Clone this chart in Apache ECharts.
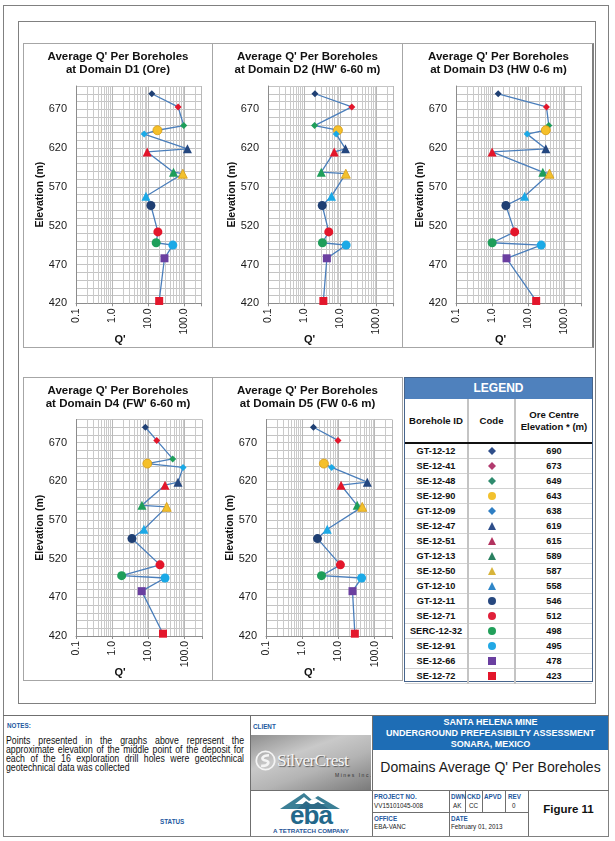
<!DOCTYPE html>
<html><head><meta charset="utf-8">
<script src="https://cdn.jsdelivr.net/npm/echarts@6/dist/echarts.min.js"></script>
<style>
body{margin:0;width:615px;height:841px;position:relative;background:#fff;font-family:"Liberation Sans",Arial,sans-serif;overflow:hidden}
.abs{position:absolute;box-sizing:border-box}
.box{border:1px solid #A6A6A6}
.hl{position:absolute;height:1px;background:#6f6f6f}
.vl{position:absolute;width:1px;background:#6f6f6f}
.lab{position:absolute;font-size:6.3px;font-weight:bold;color:#2358A0;white-space:nowrap}
.val{position:absolute;font-size:6.3px;color:#222;white-space:nowrap}
#chart{position:absolute;left:0;top:0;width:615px;height:841px;z-index:5}
#legend table{border-collapse:collapse;width:187px;table-layout:fixed}
#legend td{text-align:center;font-weight:bold;font-size:9.2px;color:#111;padding:0;height:14px;border-bottom:1px solid #D2D2D2}
#legend td.c1,#legend th.c1{border-right:2px solid #C4C4C4}
#legend td.c2,#legend th.c2{border-right:2px solid #C4C4C4}
#legend th{font-size:9.6px;font-weight:bold;color:#111;height:43px;border-bottom:2px solid #111;padding:0;line-height:12px}
.lg-head{height:21px;background:#4F81BD;color:#fff;font-weight:bold;font-size:12px;text-align:center;line-height:21px}
.note{position:absolute;left:6px;width:272px;font-size:10px;line-height:9px;color:#111;text-align:justify;text-align-last:justify;white-space:nowrap;transform:scaleX(0.875);transform-origin:0 0}
</style></head><body>

<!-- frames -->
<div class="abs" style="left:3px;top:5px;width:606px;height:832px;border:1px solid #808080"></div>
<div class="abs" style="left:18px;top:21px;width:578px;height:683px;border:1px solid #808080"></div>
<div class="abs box" style="left:23px;top:43px;width:190px;height:305px"></div>
<div class="abs box" style="left:212px;top:43px;width:191px;height:305px"></div>
<div class="abs box" style="left:402px;top:43px;width:192px;height:305px;border-right:2px solid #808080"></div>
<div class="abs box" style="left:23px;top:377px;width:190px;height:304px"></div>
<div class="abs box" style="left:212px;top:377px;width:191px;height:304px"></div>
<div id="legend" class="abs" style="left:404px;top:377px;width:189px;height:305px;border:1px solid #46648C"></div>

<!-- title block -->
<div class="hl" style="left:3px;top:715px;width:606px"></div>
<div class="vl" style="left:250px;top:715px;height:121px"></div>
<div class="vl" style="left:372px;top:715px;height:121px"></div>
<div class="abs" style="left:373px;top:716px;width:235px;height:34px;background:#1E6DB5;color:#fff;font-weight:bold;font-size:9px;line-height:11px;text-align:center;padding-top:0.5px">SANTA HELENA MINE<br>UNDERGROUND PREFEASIBILTY ASSESSMENT<br>SONARA, MEXICO</div>
<div class="abs" style="left:373px;top:759px;width:235px;text-align:center;font-size:14px;color:#1a1a1a">Domains Average Q' Per Boreholes</div>
<div class="hl" style="left:250px;top:790px;width:359px"></div>
<div class="hl" style="left:372px;top:812px;width:156px"></div>
<div class="vl" style="left:449px;top:790px;height:46px"></div>
<div class="vl" style="left:465px;top:790px;height:22px"></div>
<div class="vl" style="left:482px;top:790px;height:22px"></div>
<div class="vl" style="left:505px;top:790px;height:22px"></div>
<div class="vl" style="left:528px;top:790px;height:46px"></div>
<div class="lab" style="left:374px;top:793px">PROJECT NO.</div>
<div class="val" style="left:374px;top:802px">VV15101045-008</div>
<div class="lab" style="left:451px;top:793px">DWN</div>
<div class="val" style="left:453px;top:802px">AK</div>
<div class="lab" style="left:467px;top:793px">CKD</div>
<div class="val" style="left:469px;top:802px">CC</div>
<div class="lab" style="left:484px;top:793px">APVD</div>
<div class="lab" style="left:508px;top:793px">REV</div>
<div class="val" style="left:512px;top:802px">0</div>
<div class="lab" style="left:374px;top:815px">OFFICE</div>
<div class="val" style="left:374px;top:823px">EBA-VANC</div>
<div class="lab" style="left:451px;top:815px">DATE</div>
<div class="val" style="left:451px;top:823px">February 01, 2013</div>
<div class="abs" style="left:529px;top:803px;width:79px;text-align:center;font-size:11.5px;font-weight:bold;color:#111">Figure 11</div>

<div class="lab" style="left:7px;top:722px">NOTES:</div>
<div class="note" style="top:736px">Points presented in the graphs above represent the</div>
<div class="note" style="top:745px">approximate elevation of the middle point of the deposit for</div>
<div class="note" style="top:754px">each of the 16 exploration drill holes were geotechnical</div>
<div class="note" style="top:763px;text-align-last:left">geotechnical data was collected</div>
<div class="lab" style="left:160px;top:818px">STATUS</div>

<div class="lab" style="left:253px;top:723px">CLIENT</div>
<div class="abs" style="left:251px;top:735px;width:120px;height:55px;background:linear-gradient(160deg,#8e8e8e 0%,#c9c9c9 35%,#b4b4b4 60%,#7a7a7a 100%);overflow:hidden">
  <svg class="abs" style="left:4px;top:15px" width="21" height="21" viewBox="0 0 24 24"><circle cx="12" cy="12" r="10.5" fill="none" stroke="#f4f4f4" stroke-width="2"/><path d="M16 6 C8 6 6 11 12 12 C18 13 15 19 7 18" fill="none" stroke="#f4f4f4" stroke-width="3"/></svg>
  <div class="abs" style="left:26px;top:15px;font-family:'Liberation Serif','DejaVu Serif',serif;font-size:17.5px;color:#f6f6f6;text-shadow:1px 1px 1px #555;letter-spacing:-0.7px;white-space:nowrap">SilverCrest</div>
  <div class="abs" style="left:84px;top:37px;font-size:5px;letter-spacing:1.5px;color:#333;white-space:nowrap">Mines Inc.</div>
</div>
<svg class="abs" style="left:280px;top:791px" width="60" height="18" viewBox="0 0 60 18"><polygon points="0,18 24,2 32,9 38,5 60,18" fill="#3B7F96"/><polygon points="15,13 24,6 29,10 35,7 45,13" fill="#ffffff"/><polygon points="17,18 26,10 32,14 38,11 49,18" fill="#2E6A86"/></svg>
<div class="abs" style="left:250px;top:804px;width:122px;text-align:center;font-size:26px;line-height:22px;font-weight:bold;color:#23688B;letter-spacing:-1px">eba</div>
<div class="abs" style="left:250px;top:827px;width:122px;text-align:center;font-size:6.2px;font-weight:bold;color:#1F5597">A TETRATECH COMPANY</div>

<div id="chart"></div>

<script>
// ---------- data ----------
const boreholeIds = ['GT-12-12','SE-12-41','SE-12-48','SE-12-90','GT-12-09','SE-12-47','SE-12-51','GT-12-13','SE-12-50','GT-12-10','GT-12-11','SE-12-71','SERC-12-32','SE-12-91','SE-12-66','SE-12-72'];
const oreCentreElevation = [690,673,649,643,638,619,615,589,587,558,546,512,498,495,478,423];
const qD1 = [12.5,66.8,95.8,17.9,7.7,121,9.3,49.7,90,8.6,11.8,18.4,16.5,47.6,28,20];
const qD2 = [1.99,20.8,1.94,8.6,7.7,13.9,6.8,2.97,14.2,5.7,3.16,4.8,3.2,14.5,4.25,3.4];
const qD3 = [1.47,31.8,36.9,30.5,9.3,30.5,1.0,25.2,38.5,7.9,2.4,4.2,1.0,22.7,2.5,16.5];
const qD4 = [8.2,16.9,46.6,9.3,90,65.4,28.6,6.6,31.8,7.5,3.5,20.8,1.82,28.6,6.5,25.2];
const qD5 = [2.04,9.7,null,3.96,6.5,62.5,11.8,32.9,45.3,4.9,2.64,11.3,3.4,43.4,24.4,28.3];
const chartTitleLine1 = "Average Q' Per Boreholes";
const chartTitleLine2 = ['at Domain D1 (Ore)', "at Domain D2 (HW' 6-60 m)", 'at Domain D3 (HW 0-6 m)', "at Domain D4 (FW' 6-60 m)", 'at Domain D5 (FW 0-6 m)'];
const elevationTicks = [420,470,520,570,620,670];
const qTicks = [0.1,1,10,100];
const qMinorLines = [0.2,0.3,0.4,0.5,0.6,0.7,0.8,0.9,2,3,4,5,6,7,8,9,20,30,40,50,60,70,80,90,200];

// ---------- styles ----------
const markerShapes = ['diamond','diamond','diamond','circle','diamond','triangle','triangle','triangle','triangle','triangle','circle','circle','circle','circle','rect','rect'];
const markerSizes  = [7,7,7,9,7,9,9,9,9,9,9,9,9,9,8,8];
const markerColors = ['#1F3F73','#E3162B','#1E9E5A','#F5C02A','#1BA9E6','#24477F','#E3162B','#1E9E5A','#F2C12E','#1BA9E6','#1F3F73','#E3162B','#1E9E5A','#1BA9E6','#6A3FA0','#E3162B'];
const legendColors = ['#2E4E8A','#B23A6E','#2E8B6E','#F2C12E','#2F7FC4','#2E4E8A','#B2335F','#2A8060','#D8B43A','#2F86C8','#27487F','#E0203A','#21A05A','#22A8E5','#6A3FA0','#E3162B'];
const panels = [
  {gl:76,  gt:86,    gw:125.7, gh:217.3, bx:23,  bw:190, by:43},
  {gl:268, gt:86,    gw:125.7, gh:217.3, bx:212, bw:191, by:43},
  {gl:456, gt:86,    gw:125.7, gh:217.3, bx:403, bw:191, by:43},
  {gl:76,  gt:419.5, gw:126,   gh:216.5, bx:23,  bw:190, by:377},
  {gl:266, gt:419.5, gw:126,   gh:216.5, bx:212, bw:191, by:377}
];
const qSeries = [qD1,qD2,qD3,qD4,qD5];
const FONT = '"Liberation Sans", Arial, sans-serif';

// ---------- legend table ----------
function symSvg(shape, color){
  let s = '';
  if (shape === 'diamond') s = `<polygon points="5,1 9,5 5,9 1,5" fill="${color}"/>`;
  else if (shape === 'circle') s = `<circle cx="5" cy="5" r="4" fill="${color}"/>`;
  else if (shape === 'triangle') s = `<polygon points="5,1 9,9 1,9" fill="${color}"/>`;
  else s = `<rect x="1" y="1" width="8" height="8" fill="${color}"/>`;
  return `<svg width="10" height="10" viewBox="0 0 10 10" style="display:block;margin:auto">${s}</svg>`;
}
let html = '<div class="lg-head">LEGEND</div><table><colgroup><col style="width:63px"><col style="width:47px"><col style="width:77px"></colgroup>';
html += '<tr><th class="c1">Borehole ID</th><th class="c2">Code</th><th>Ore Centre<br>Elevation * (m)</th></tr>';
boreholeIds.forEach((id, k) => {
  html += `<tr><td class="c1">${id}</td><td class="c2">${symSvg(markerShapes[k], legendColors[k])}</td><td>${oreCentreElevation[k]}</td></tr>`;
});
html += '</table>';
document.getElementById('legend').innerHTML = html;

// ---------- charts ----------
const fmtQ = v => { const l = Math.log10(v); return Math.abs(l - Math.round(l)) < 1e-6 ? Number(v).toFixed(1) : ''; };
const fmtE = v => elevationTicks.indexOf(Math.round(v)) >= 0 ? String(Math.round(v)) : '';
const grid = [], xAxis = [], yAxis = [], series = [], graphic = [];
panels.forEach((p, i) => {
  grid.push({left:p.gl, top:p.gt, width:p.gw, height:p.gh, show:false});
  xAxis.push({type:'log', logBase:10, gridIndex:i, min:0.1, max:300,
    axisLine:{show:true, onZero:false, lineStyle:{color:'#8C8C8C'}},
    axisTick:{show:true, length:3, lineStyle:{color:'#8C8C8C'}},
    axisLabel:{rotate:90, margin:5, fontSize:10.5, color:'#1a1a1a', fontFamily:FONT, formatter:fmtQ},
    splitLine:{show:true, lineStyle:{color:'#B8B8B8', width:1}}
  });
  yAxis.push({type:'value', gridIndex:i, min:420, max:700, interval:10,
    axisLine:{show:true, onZero:false, lineStyle:{color:'#8C8C8C'}},
    axisTick:{show:false},
    axisLabel:{margin:9, fontSize:11, color:'#1a1a1a', fontFamily:FONT, formatter:fmtE},
    splitLine:{show:true, lineStyle:{color:'#C4C4C4', width:1}}
  });
  series.push({type:'line', xAxisIndex:i, yAxisIndex:i, data:[], z:1, zlevel:0, silent:true, symbol:'none',
    markLine:{z:1, silent:true, symbol:'none', animation:false, label:{show:false},
      lineStyle:{color:'#CACACA', width:1, type:'solid'},
      emphasis:{disabled:true},
      data: qMinorLines.map(v => ({xAxis:v}))}
  });
  series.push({type:'line', xAxisIndex:i, yAxisIndex:i, z:10, connectNulls:false, clip:false,
    lineStyle:{color:'#4A7EBB', width:1.3}, showSymbol:true,
    emphasis:{disabled:true},
    data: oreCentreElevation.map((e, k) => ({
      value:[qSeries[i][k] == null ? '-' : qSeries[i][k], e],
      symbol: markerShapes[k], symbolSize: markerSizes[k],
      itemStyle:{color: markerColors[k], borderColor: (k===3||k===8) ? '#D69A14' : markerColors[k], borderWidth: (k===3||k===8)?0.8:0}
    }))
  });
  const cx = p.bx + p.bw / 2;
  graphic.push({type:'text', x:cx, y:p.by + 14, style:{text:chartTitleLine1, font:'bold 11.5px ' + FONT, fill:'#111', align:'center', verticalAlign:'middle'}});
  graphic.push({type:'text', x:cx, y:p.by + 27, style:{text:chartTitleLine2[i], font:'bold 11.5px ' + FONT, fill:'#111', align:'center', verticalAlign:'middle'}});
  graphic.push({type:'text', x:p.gl - 35.5, y:p.gt + p.gh / 2, rotation:Math.PI / 2, style:{text:'Elevation (m)', font:'bold 10.5px ' + FONT, fill:'#111', align:'center', verticalAlign:'middle'}});
  graphic.push({type:'text', x:cx + 2, y:p.gt + p.gh + 37, style:{text:"Q'", font:'bold 11px ' + FONT, fill:'#111', align:'center', verticalAlign:'middle'}});
});

const chart = echarts.init(document.getElementById('chart'), null, {renderer:'canvas', width:615, height:841});
chart.setOption({animation:false, textStyle:{fontFamily:FONT}, grid, xAxis, yAxis, series, graphic});
</script>
</body></html>
